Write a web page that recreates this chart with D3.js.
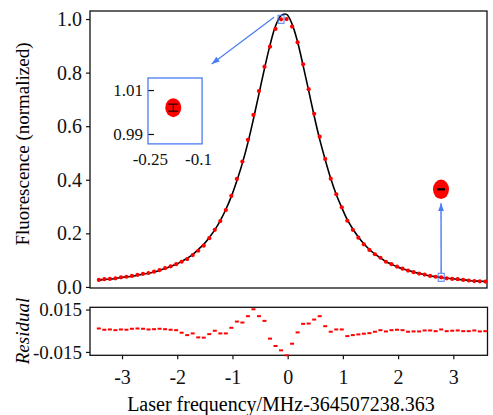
<!DOCTYPE html>
<html lang="en">
<head>
<meta charset="UTF-8">
<title>Fluorescence scan</title>
<script src="https://cdn.jsdelivr.net/npm/d3@7"></script>
<style>
  body { margin: 0; background: #fff; }
  svg { display: block; }
  svg text { font-family: "Liberation Serif", "Times New Roman", serif; }
</style>
</head>
<body>
<div id="chart"></div>
<script>
// laser detuning of every scan step, MHz relative to 364507238.363
const freq = [-3.42, -3.32, -3.22, -3.12, -3.02, -2.92, -2.82, -2.72, -2.62, -2.52,
  -2.42, -2.32, -2.22, -2.12, -2.02, -1.92, -1.82, -1.72, -1.62, -1.52,
  -1.42, -1.32, -1.22, -1.12, -1.02, -0.92, -0.82, -0.72, -0.62, -0.52,
  -0.42, -0.32, -0.22, -0.12, -0.02, 0.08, 0.18, 0.28, 0.38, 0.48,
  0.58, 0.68, 0.78, 0.88, 0.98, 1.08, 1.18, 1.28, 1.38, 1.48,
  1.58, 1.68, 1.78, 1.88, 1.98, 2.08, 2.18, 2.28, 2.38, 2.48,
  2.58, 2.68, 2.78, 2.88, 2.98, 3.08, 3.18, 3.28, 3.38, 3.48, 3.58]

// normalized fluorescence (red dots)
const signal = [0.026, 0.029, 0.030, 0.032, 0.036, 0.038, 0.041, 0.045, 0.049, 0.052,
  0.057, 0.063, 0.070, 0.077, 0.085, 0.094, 0.104, 0.119, 0.135, 0.154,
  0.182, 0.213, 0.246, 0.287, 0.340, 0.403, 0.468, 0.549, 0.642, 0.731,
  0.822, 0.897, 0.963, 0.999, 1.000, 0.972, 0.913, 0.831, 0.738, 0.646,
  0.561, 0.478, 0.404, 0.346, 0.297, 0.247, 0.213, 0.184, 0.159, 0.138,
  0.122, 0.109, 0.094, 0.085, 0.076, 0.068, 0.061, 0.055, 0.050, 0.046,
  0.041, 0.038, 0.036, 0.032, 0.030, 0.029, 0.026, 0.024, 0.022, 0.021, 0.020]

// data minus fit (lower panel)
const residual = [0.0016, 0.0007, 0.0009, 0.0004, 0.0009, 0.0007, 0.0014, 0.0016, 0.0014, 0.0009,
  0.0011, 0.0014, 0.0011, 0.0007, 0.0004, -0.0014, -0.0031, -0.0019, -0.0047, -0.0049,
  -0.0024, 0.0000, -0.0019, -0.0019, 0.0021, 0.0065, 0.0058, 0.0103, 0.0152, 0.0103,
  0.0070, -0.0056, -0.0108, -0.0139, -0.0174, -0.0092, -0.0012, 0.0049, 0.0051, 0.0079,
  0.0103, 0.0032, -0.0007, 0.0009, 0.0009, -0.0038, -0.0031, -0.0026, -0.0021, -0.0017,
  -0.0007, 0.0004, -0.0005, 0.0004, 0.0007, 0.0004, -0.0007, -0.0005, -0.0005, 0.0002,
  0.0002, -0.0003, 0.0009, -0.0003, 0.0000, 0.0002, -0.0003, -0.0003, 0.0002, -0.0005, -0.0003]

// fit curve = data - residual
const fit = signal.map((s, i) => s - residual[i])

const yTicks = [0, 0.2, 0.4, 0.6, 0.8, 1.0]
const xTicks = [-3, -2, -1, 0, 1, 2, 3]
const resTicks = [-0.015, 0.015]

// the two points shown magnified (index into the arrays)
const zoomIdx = [33, 62]
// magnified view of the peak point, placed in main-chart units
const insetBox = { x: [-2.53, -1.55], y: [0.534, 0.78] }
const insetXDomain = [-0.256, -0.087]
const insetYDomain = [0.9855, 1.0155]
const insetXTicks = [-0.25, -0.1]
const insetYTicks = [0.99, 1.01]
const insetPoint = { freq: -0.177, level: 1.002, err: 0.0016 }
// magnified tail point
const bigPoint = { freq: 2.777, level: 0.3644 }
const arrowTips = [[-1.376, 0.8325], [2.777, 0.3122]]

const w = 493, h = 415
const blue = '#4b7cf4'
const serif = '"Liberation Serif", "Times New Roman", serif'

const svg = d3.select('#chart').append('svg')
  .attr('width', w)
  .attr('height', h)
  .attr('font-family', serif)

const x = d3.scaleLinear().domain([-3.58, 3.61]).range([90, 487])
const y = d3.scaleLinear().domain([-0.004, 1.03]).range([288, 11])
const yr = d3.scaleLinear().domain([-0.0174, 0.0166]).range([355.3, 307.3])

svg.append('defs').append('marker')
  .attr('id', 'head')
  .attr('markerUnits', 'userSpaceOnUse')
  .attr('markerWidth', 8).attr('markerHeight', 6)
  .attr('refX', 8).attr('refY', 3)
  .attr('orient', 'auto')
  .append('path')
  .attr('d', 'M0,0L8,3L0,6Z')
  .attr('fill', blue)

// shared look for every axis group
function styleAxis(g, size) {
  g.attr('font-family', serif).attr('font-size', size)
  g.select('.domain').remove()
  g.selectAll('.tick line').attr('stroke', '#111').attr('stroke-width', 1.2)
  g.selectAll('.tick text').attr('fill', '#111').attr('font-family', serif)
}

//---- main panel
svg.append('g').attr('transform', 'translate(90,0)')
  .call(d3.axisLeft(y).tickValues(yTicks).tickFormat(d3.format('.1f'))
    .tickSize(4).tickPadding(4))
  .call(styleAxis, 20)

svg.append('rect')
  .attr('x', 90).attr('y', 11)
  .attr('width', 397).attr('height', 277)
  .attr('fill', 'none').attr('stroke', '#111').attr('stroke-width', 1.3)

svg.append('path')
  .datum(fit)
  .attr('fill', 'none')
  .attr('stroke', '#000')
  .attr('stroke-width', 1.6)
  .attr('d', d3.line().x((d, i) => x(freq[i])).y(d => y(d)).curve(d3.curveCatmullRom))

svg.selectAll('.dot')
  .data(signal)
  .enter()
  .append('circle')
  .attr('class', 'dot')
  .attr('cx', (d, i) => x(freq[i]))
  .attr('cy', d => y(d))
  .attr('r', 2.1)
  .attr('fill', '#f00')

// small squares on the magnified points
svg.selectAll('.mark')
  .data(zoomIdx)
  .enter()
  .append('rect')
  .attr('class', 'mark')
  .attr('x', i => x(freq[i]) - 3)
  .attr('y', i => y(signal[i]) - 4)
  .attr('width', 6).attr('height', 8)
  .attr('fill', 'none')
  .attr('stroke', blue)
  .attr('stroke-width', 1)

// arrows
let i0 = zoomIdx[0], i1 = zoomIdx[1]
svg.append('line')
  .attr('x1', x(freq[i0]) - 7).attr('y1', y(signal[i0]) - 2)
  .attr('x2', x(arrowTips[0][0])).attr('y2', y(arrowTips[0][1]))
  .attr('stroke', blue).attr('stroke-width', 1.2)
  .attr('marker-end', 'url(#head)')
svg.append('line')
  .attr('x1', x(freq[i1])).attr('y1', y(signal[i1]) - 4)
  .attr('x2', x(arrowTips[1][0])).attr('y2', y(arrowTips[1][1]))
  .attr('stroke', blue).attr('stroke-width', 1.4)
  .attr('marker-end', 'url(#head)')

// inset with the peak point
let bx = insetBox.x.map(x), by = insetBox.y.map(y)
const ix = d3.scaleLinear().domain(insetXDomain).range(bx)
const iy = d3.scaleLinear().domain(insetYDomain).range(by)

svg.append('g').attr('transform', `translate(${bx[0]},0)`)
  .call(d3.axisLeft(iy).tickValues(insetYTicks).tickFormat(d3.format('.2f'))
    .tickSizeInner(-6).tickSizeOuter(0).tickPadding(5))
  .call(styleAxis, 17)
svg.append('g').attr('transform', `translate(0,${by[0]})`)
  .call(d3.axisBottom(ix).tickValues(insetXTicks).tickFormat(d => String(d))
    .tickSize(0).tickPadding(9))
  .call(styleAxis, 17)

svg.append('rect')
  .attr('x', bx[0]).attr('y', by[1])
  .attr('width', bx[1] - bx[0]).attr('height', by[0] - by[1])
  .attr('fill', 'none').attr('stroke', blue).attr('stroke-width', 1.3)

let px = ix(insetPoint.freq), py = iy(insetPoint.level)
svg.append('ellipse')
  .attr('cx', px).attr('cy', py)
  .attr('rx', 8).attr('ry', 9.5)
  .attr('fill', '#f00')
let eTop = iy(insetPoint.level + insetPoint.err), eBot = iy(insetPoint.level - insetPoint.err)
svg.append('path')
  .attr('d', `M${px},${eTop}V${eBot}M${px - 5},${eTop}H${px + 5}M${px - 5},${eBot}H${px + 5}`)
  .attr('stroke', '#000').attr('stroke-width', 1).attr('fill', 'none')

// magnified tail point
svg.append('ellipse')
  .attr('cx', x(bigPoint.freq)).attr('cy', y(bigPoint.level))
  .attr('rx', 8).attr('ry', 9.7)
  .attr('fill', '#f00')
svg.append('line')
  .attr('x1', x(bigPoint.freq) - 4).attr('x2', x(bigPoint.freq) + 4)
  .attr('y1', y(bigPoint.level)).attr('y2', y(bigPoint.level))
  .attr('stroke', '#000').attr('stroke-width', 2.2)

//---- residual panel
svg.append('g').attr('transform', 'translate(90,0)')
  .call(d3.axisLeft(yr).tickValues(resTicks).tickFormat(d => d.toFixed(3))
    .tickSize(4).tickPadding(4))
  .call(styleAxis, 19)
svg.append('g').attr('transform', 'translate(0,355.3)')
  .call(d3.axisBottom(x).tickValues(xTicks).tickFormat(d => String(d))
    .tickSize(4).tickPadding(11))
  .call(styleAxis, 20)

svg.append('rect')
  .attr('x', 90).attr('y', 307.3)
  .attr('width', 397.5).attr('height', 48)
  .attr('fill', 'none').attr('stroke', '#111').attr('stroke-width', 1.3)

svg.selectAll('.res')
  .data(residual)
  .enter()
  .append('rect')
  .attr('class', 'res')
  .attr('x', (d, i) => x(freq[i]) - 2)
  .attr('y', d => yr(d) - 1)
  .attr('width', 4).attr('height', 2)
  .attr('fill', '#f00')

// titles
svg.append('text')
  .attr('transform', 'translate(29,144) rotate(-90)')
  .attr('text-anchor', 'middle')
  .attr('font-size', 19)
  .text('Fluorescence (normalized)')
svg.append('text')
  .attr('transform', 'translate(29,331) rotate(-90)')
  .attr('text-anchor', 'middle')
  .attr('font-size', 19)
  .attr('font-style', 'italic')
  .text('Residual')
svg.append('text')
  .attr('x', 281).attr('y', 411)
  .attr('text-anchor', 'middle')
  .attr('font-size', 20)
  .text('Laser frequency/MHz-364507238.363')
</script>
</body>
</html>
